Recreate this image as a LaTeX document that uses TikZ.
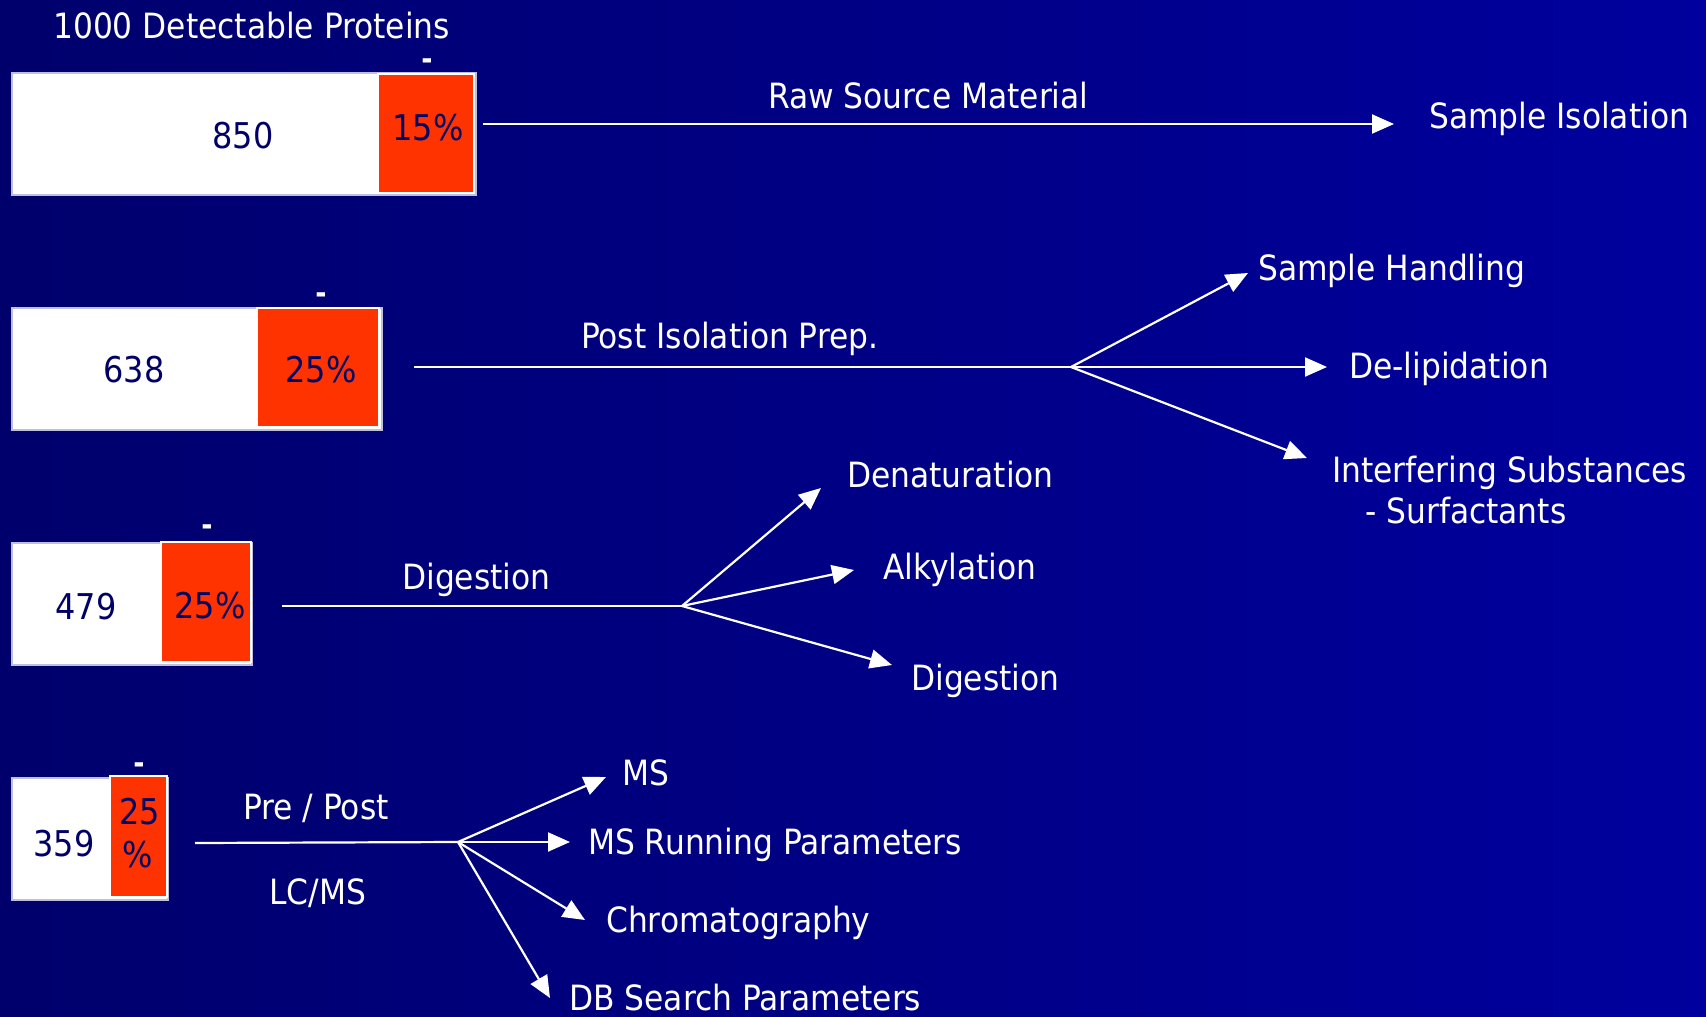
\documentclass[tikz,border=0pt]{standalone}
\usepackage{fontspec}
\setmainfont{DejaVu Sans Condensed}
\usetikzlibrary{arrows.meta}
\definecolor{bgleft}{RGB}{0,0,108}
\definecolor{bgright}{RGB}{0,0,158}
\definecolor{navytext}{RGB}{0,0,102}
\definecolor{lossred}{RGB}{255,51,0}
\definecolor{boxedge}{RGB}{190,190,225}
\tikzset{
  lbl/.style={inner sep=0pt, anchor=base west, text=white, font=\fontsize{34.8}{40}\selectfont},
  num/.style={inner sep=0pt, anchor=base, text=navytext, font=\fontsize{35.5}{40}\selectfont},
  dashmark/.style={inner sep=0pt, anchor=base, text=white, font=\fontsize{30}{36}\selectfont\bfseries},
  whitebar/.style={draw=boxedge, line width=1.5pt, fill=white, anchor=north west, inner sep=0pt},
  redbar/.style={draw=white, line width=2pt, fill=lossred, anchor=north west, inner sep=0pt},
  flow/.style={draw=white, line width=2.2pt},
  flowarrow/.style={flow, -{Triangle[length=22pt,width=19pt]}},
}
\begin{document}
\begin{tikzpicture}[x=1pt,y=-1pt]
\shade[left color=bgleft, right color=bgright] (0,0) rectangle (1706,1017);
\useasboundingbox (0,0) rectangle (1706,1017);

% title
\node[lbl] (title) at (53,38) {1000 Detectable Proteins};

% ---- bar 1
\node[whitebar, minimum width=464pt, minimum height=122pt] (w1) at (11,72) {};
\node[redbar, minimum width=96pt, minimum height=119pt] (r1) at (377,73) {};
\node[num] (n1) at (243,148) {850};
\node[num] (p1) at (428,140) {15\%};
\node[dashmark] (d1) at (427,69) {-};
\coordinate (s1) at (483,124);
\coordinate (t1) at (1394,124);
\draw[flowarrow] (s1) -- (t1);
\node[lbl] (l1) at (768,108) {Raw Source Material};
\node[lbl] (o1) at (1429,128) {Sample Isolation};

% ---- bar 2
\node[whitebar, minimum width=370pt, minimum height=122pt] (w2) at (11,307) {};
\node[redbar, minimum width=122pt, minimum height=119pt] (r2) at (256,307) {};
\node[num] (n2) at (134,382) {638};
\node[num] (p2) at (321,382) {25\%};
\node[dashmark] (d2) at (321,303) {-};
\coordinate (s2) at (414,367);
\coordinate (b2) at (1071,367);
\draw[flow] (s2) -- (b2);
\node[lbl] (l2) at (581,348) {Post Isolation Prep.};
\coordinate (t2a) at (1248,273);
\coordinate (t2b) at (1327,367);
\coordinate (t2c) at (1307,458);
\draw[flowarrow] (b2) -- (t2a);
\draw[flowarrow] (b2) -- (t2b);
\draw[flowarrow] (b2) -- (t2c);
\node[lbl] (o2a) at (1258,280) {Sample Handling};
\node[lbl] (o2b) at (1349,378) {De-lipidation};
\node[lbl] (o2c) at (1332,482) {Interfering Substances};
\node[lbl] (o2d) at (1365,523) {- Surfactants};

% ---- bar 3
\node[whitebar, minimum width=240pt, minimum height=122pt] (w3) at (11,542) {};
\node[redbar, minimum width=90pt, minimum height=120pt] (r3) at (160,541) {};
\node[num] (n3) at (86,619) {479};
\node[num] (p3) at (210,618) {25\%};
\node[dashmark] (d3) at (207,535) {-};
\coordinate (s3) at (282,606);
\coordinate (b3) at (682,606);
\draw[flow] (s3) -- (b3);
\node[lbl] (l3) at (402,589) {Digestion};
\coordinate (t3a) at (821,488);
\coordinate (t3b) at (854,570);
\coordinate (t3c) at (892,665);
\draw[flowarrow] (b3) -- (t3a);
\draw[flowarrow] (b3) -- (t3b);
\draw[flowarrow] (b3) -- (t3c);
\node[lbl] (o3a) at (847,487) {Denaturation};
\node[lbl] (o3b) at (883,579) {Alkylation};
\node[lbl] (o3c) at (911,690) {Digestion};

% ---- bar 4
\node[whitebar, minimum width=156pt, minimum height=122pt] (w4) at (11,777) {};
\node[redbar, minimum width=57pt, minimum height=121pt] (r4) at (109,775) {};
\node[num] (n4) at (64,856) {359};
\node[num] (p4a) at (140,824) {25};
\node[num] (p4b) at (138,867) {\%};
\node[dashmark] (d4) at (139,773) {-};
\coordinate (s4) at (195,843);
\coordinate (b4) at (458,842);
\draw[flow] (s4) -- (b4);
\node[lbl] (l4a) at (243,819) {Pre / Post};
\node[lbl] (l4b) at (269,904) {LC/MS};
\coordinate (t4a) at (606,777);
\coordinate (t4b) at (570,842);
\coordinate (t4c) at (585,920);
\coordinate (t4d) at (550,998);
\draw[flowarrow] (b4) -- (t4a);
\draw[flowarrow] (b4) -- (t4b);
\draw[flowarrow] (b4) -- (t4c);
\draw[flowarrow] (b4) -- (t4d);
\node[lbl] (o4a) at (622,785) {MS};
\node[lbl] (o4b) at (588,854) {MS Running Parameters};
\node[lbl] (o4c) at (606,932) {Chromatography};
\node[lbl] (o4d) at (569,1010) {DB Search Parameters};
\end{tikzpicture}
\end{document}
